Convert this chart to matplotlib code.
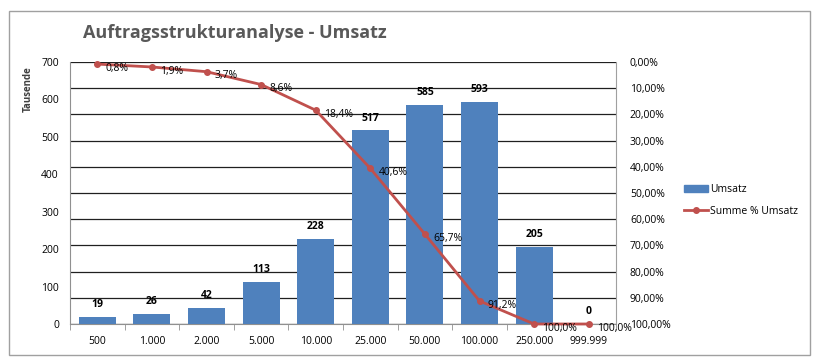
import matplotlib
matplotlib.use("Agg")
import matplotlib.pyplot as plt
from matplotlib.ticker import FixedLocator
from matplotlib.lines import Line2D
from matplotlib.patches import Patch

categories = ["500", "1.000", "2.000", "5.000", "10.000", "25.000", "50.000", "100.000", "250.000", "999.999"]
umsatz = [19, 26, 42, 113, 228, 517, 585, 593, 205, 0]
cum_pct = [0.8, 1.9, 3.7, 8.6, 18.4, 40.6, 65.7, 91.2, 100.0, 100.0]
left_ticks = [0, 100, 200, 300, 400, 500, 600, 700]
right_ticks = [0, 10, 20, 30, 40, 50, 60, 70, 80, 90, 100]

BAR = "#4F81BD"
LINE = "#C0504D"
plt.rcParams['font.family'] = ['Open Sans', 'DejaVu Sans']

fig = plt.figure(figsize=(8.21, 3.62), dpi=100)
# outer border
fig.patches.append(plt.Rectangle((9/821, 1-355/362), (810-9)/821, (355-11)/362,
                                 transform=fig.transFigure, fill=False,
                                 edgecolor="#A0A0A0", linewidth=1))

ax = fig.add_axes([70/821, 1-324/362, (616-70)/821, (324-62)/362])
x = list(range(len(categories)))
ax.bar(x, umsatz, width=0.68, color=BAR, zorder=3)
ax.set_xlim(-0.5, len(categories)-0.5)
ax.set_ylim(0, 700)
ax.yaxis.set_major_locator(FixedLocator(left_ticks))
ax.set_xticks(x)
ax.set_xticklabels(categories, fontsize=7.5)
ax.xaxis.set_minor_locator(FixedLocator([i+0.5 for i in range(-1, len(categories))]))
ax.tick_params(axis='x', which='major', length=0, pad=9)
ax.tick_params(axis='x', which='minor', length=4, color="#909090")
ax.tick_params(axis='y', length=0, labelsize=7.5, pad=8)
for s in ["top", "right"]:
    ax.spines[s].set_visible(False)
for s in ["left", "bottom"]:
    ax.spines[s].set_color("#909090")
ax.set_ylabel("Tausende", fontsize=7, fontweight="bold", color="#404040")
ax.yaxis.set_label_coords(-0.066, 0.895)

for xi, v in zip(x, umsatz):
    ax.annotate(f"{v}", (xi, v), xytext=(0, 5), textcoords="offset points",
                ha="center", va="bottom", fontsize=7.5, fontweight="bold", zorder=5)

ax2 = ax.twinx()
ax2.set_ylim(100, 0)
ax2.yaxis.set_major_locator(FixedLocator(right_ticks))
ax2.set_yticklabels([f"{t},00%" for t in right_ticks], fontsize=7.5)
ax2.tick_params(axis='y', length=0, pad=10)
ax2.grid(axis='y', color="#202020", linewidth=0.9, zorder=0)
for s in ["top", "left", "bottom"]:
    ax2.spines[s].set_visible(False)
ax2.spines["right"].set_color("#A0A0A0")
ax.set_zorder(1)
ax.patch.set_visible(False)
ax2.set_zorder(0)

ax3 = ax.twinx()
ax3.set_ylim(100, 0)
ax3.axis("off")
ax3.set_zorder(2)
ax3.plot(x, cum_pct, color=LINE, linewidth=2, marker="o", markersize=4, clip_on=False)
for xi, p in zip(x, cum_pct):
    ax3.annotate(f"{p:.1f}%".replace(".", ","), (xi, p), xytext=(6, -3),
                 textcoords="offset points", ha="left", va="center", fontsize=7.5,
                 annotation_clip=False)

fig.text(83/821, 1-33/362, "Auftragsstrukturanalyse - Umsatz", fontsize=13,
         fontweight="bold", color="#595959", ha="left", va="center")

handles = [Patch(facecolor=BAR, edgecolor=BAR),
           Line2D([0], [0], color=LINE, linewidth=2, marker="o", markersize=4)]
fig.legend(handles, ["Umsatz", "Summe % Umsatz"], loc="upper left",
           bbox_to_anchor=(680/821, 1-180/362), frameon=False, fontsize=7.5,
           handlelength=2.3, handletextpad=0.2, labelspacing=1.0, borderaxespad=0)

fig.savefig("out.png", dpi=100)
